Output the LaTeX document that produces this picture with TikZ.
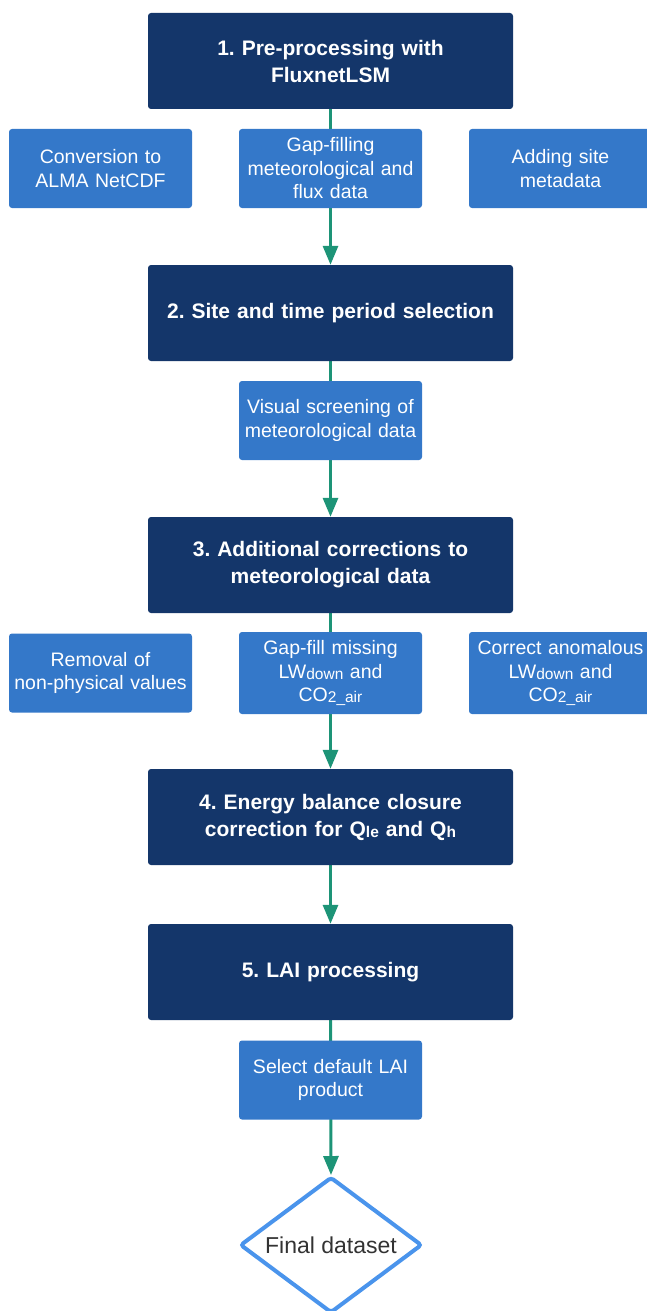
\documentclass[tikz,border=0pt]{standalone}
\usepackage{fontspec}
\setmainfont{Liberation Sans}
\usetikzlibrary{shapes.geometric,arrows.meta,backgrounds}
\definecolor{navy}{HTML}{14366A}
\definecolor{midblue}{HTML}{3478C9}
\definecolor{flowgreen}{HTML}{1D9477}
\definecolor{diamondblue}{HTML}{4A94EC}
\definecolor{darktext}{HTML}{333333}
\newcommand\lowsub[1]{\raisebox{-1pt}{\fontsize{15.5}{15.5}\selectfont #1}}
\frenchspacing
\begin{document}
\begin{tikzpicture}[x=1pt,y=-1pt,
  bigbox/.style={fill=navy, rounded corners=3pt, minimum width=365pt, minimum height=96pt,
    text width=345pt, align=center, text=white, font=\fontsize{21}{27}\selectfont\bfseries, inner sep=0pt},
  smallbox/.style={fill=midblue, rounded corners=3pt, minimum width=183pt, minimum height=79pt,
    text width=181pt, align=center, text=white, font=\fontsize{19.5}{23.5}\selectfont, inner sep=0pt},
  flow/.style={draw=flowgreen, line width=3pt, -{Triangle[width=15pt,length=19pt]}},
  final/.style={diamond, draw=diamondblue, line width=4pt, rounded corners=3pt, fill=white,
    minimum width=182pt, minimum height=136pt, inner sep=0pt, aspect=1.34,
    font=\fontsize{23}{27}\selectfont, text=darktext}]
\useasboundingbox (0,0) rectangle (646,1311);
% main steps
\node[bigbox] (b1) at (330.5,61) {1. Pre-processing with\\FluxnetLSM};
\node[bigbox] (b2) at (330.5,313) {2. Site and time period selection};
\node[bigbox] (b3) at (330.5,565) {3. Additional corrections to\\meteorological data};
\node[bigbox] (b4) at (330.5,817) {4. Energy balance closure\\correction for Q\lowsub{le} and Q\lowsub{h}};
\node[bigbox] (b5) at (330.5,972) {5. LAI processing};
% sub steps
\node[smallbox] (s1a) at (100.5,168.5) {Conversion to\\ALMA NetCDF};
\node[smallbox] (s1b) at (330.5,168.5) {Gap-filling\\meteorological and\\flux data};
\node[smallbox] (s1c) at (560.5,168.5) {Adding site\\metadata};
\node[smallbox] (s2) at (330.5,420.5) {Visual screening of\\meteorological data};
\node[smallbox] (s3a) at (100.5,673) {Removal of\\non-physical values};
\node[smallbox, minimum height=82pt] (s3b) at (330.5,673) {Gap-fill missing\\LW\lowsub{down} and\\CO\lowsub{2\_air}};
\node[smallbox, minimum height=82pt] (s3c) at (560.5,673) {Correct anomalous\\LW\lowsub{down} and\\CO\lowsub{2\_air}};
\node[smallbox] (s5) at (330.5,1080) {Select default LAI\\product};
\node[final] (fin) at (331,1245) {Final dataset};
% connectors
\begin{scope}[on background layer]
\draw[flow] (b1.south) -- (b2.north);
\draw[flow] (b2.south) -- (b3.north);
\draw[flow] (b3.south) -- (b4.north);
\draw[flow] (b4.south) -- (b5.north);
\draw[flow] (b5.south) -- (fin.north);
\end{scope}
\end{tikzpicture}
\end{document}
